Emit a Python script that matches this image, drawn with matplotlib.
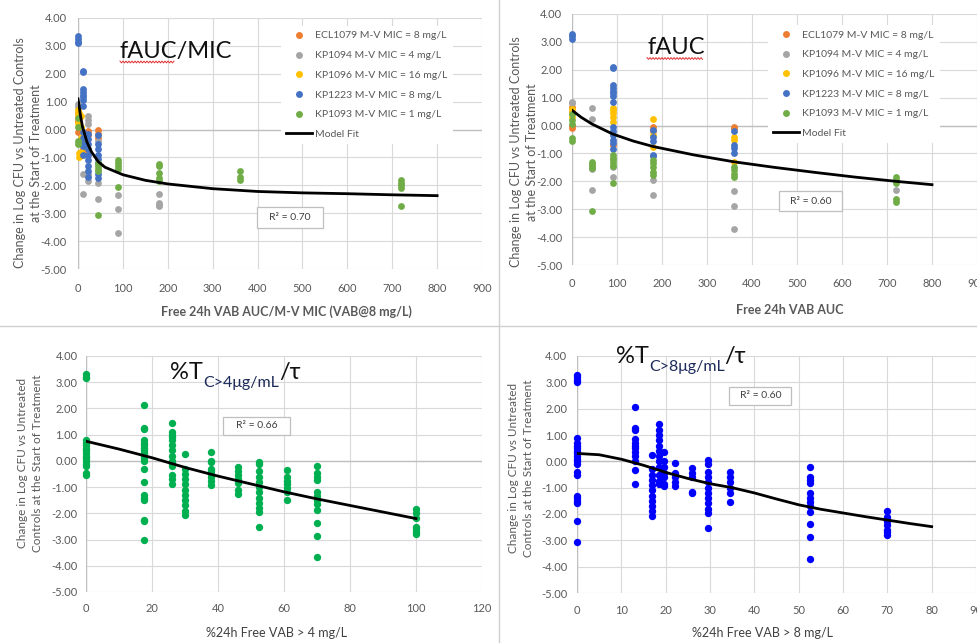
import numpy as np
import matplotlib
matplotlib.use("Agg")
import matplotlib.pyplot as plt
from matplotlib.lines import Line2D
from matplotlib.patches import Rectangle
from matplotlib.ticker import FormatStrFormatter

plt.rcParams['font.family'] = ['Lato', 'DejaVu Sans']
plt.rcParams['axes.unicode_minus'] = False

W, H = 978, 643

# ---------------- data ----------------
series_labels = ["ECL1079 M-V MIC = 8 mg/L", "KP1094 M-V MIC = 4 mg/L",
                 "KP1096 M-V MIC = 16 mg/L", "KP1223 M-V MIC = 8 mg/L",
                 "KP1093 M-V MIC = 1 mg/L"]
series_colors = ["#ED7D31", "#A5A5A5", "#FFC000", "#4472C4", "#70AD47"]

# fAUC/MIC panel: {x level: [y values]}
ecl1079_aucmic = {0: [0.6, 0.3, -0.1], 11: [-0.7, -0.8], 22: [-0.05, -0.2],
                  45: [-0.02, -0.15, -0.3]}
kp1094_aucmic = {0: [0.9, 0.8], 11: [-1.6, -2.3], 22: [0.5, 0.35, 0.2, -1.6, -1.85],
                 45: [-0.4, -1.9, -2.5], 90: [-2.35, -2.85, -3.7],
                 180: [-2.3, -2.65, -2.7, -2.75]}
kp1096_aucmic = {0: [0.7, 0.55, 0.45, 0.25], 3: [0.6, 0.4, 0.2, -0.85, -1.0],
                 6: [0.5, 0.1, -0.3, -0.5, -0.8], 11: [-0.2, -0.4, -0.9], 22: [-0.7]}
kp1223_aucmic = {0: [3.35, 3.25, 3.15, 3.1],
                 11: [2.1, 2.05, 1.45, 1.35, 1.25, 1.15, 1.05, 0.85, -0.1, -0.3, -0.5, -0.6, -0.9],
                 22: [-0.15, -0.35, -0.5, -0.7, -0.9, -1.1, -1.3, -1.5, -1.7],
                 45: [-0.2, -0.5, -0.7, -0.9, -1.05, -1.2, -1.6, -1.75]}
kp1093_aucmic = {0: [0.4, 0.1, -0.4, -0.5], 45: [-1.2, -1.3, -1.4, -1.5, -3.05],
                 90: [-1.1, -1.2, -1.3, -1.4, -2.05], 180: [-1.25, -1.3, -1.55, -1.75, -1.85],
                 360: [-1.5, -1.7, -1.8], 720: [-1.8, -1.9, -2.0, -2.1, -2.75]}
fit_aucmic_x = [0, 2, 5, 10, 20, 30, 45, 60, 100, 150, 200, 300, 400, 500, 600, 700, 800]
fit_aucmic_y = [1.1, 0.9, 0.55, 0.1, -0.45, -0.8, -1.15, -1.35, -1.62, -1.82, -1.95,
                -2.12, -2.22, -2.27, -2.3, -2.34, -2.37]

# fAUC panel
ecl1079_auc = {0: [0.65, 0.5, 0.0, -0.1], 90: [-0.7], 180: [-0.05, -0.2], 360: [-0.05, -0.1]}
kp1094_auc = {0: [0.85, 0.8], 45: [0.64, 0.24, -1.55, -2.31], 90: [-1.5, -1.83],
              180: [-1.95, -2.49], 360: [-2.35, -2.9, -3.7], 720: [-2.3]}
kp1096_auc = {0: [0.6, 0.45, 0.3], 90: [0.64, 0.55, 0.45, 0.3, 0.14],
              180: [0.24, -0.35, -0.76], 360: [-0.4, -0.5, -1.3]}
kp1223_auc = {0: [3.3, 3.2, 3.1],
              90: [2.11, 2.05, 1.45, 1.35, 1.25, 1.15, 1.05, 0.86, -0.04, -0.2, -0.35, -0.5, -0.62, -0.85],
              180: [-0.16, -0.4, -0.55, -1.05, -1.1], 360: [-0.2, -0.7, -0.8, -1.0]}
kp1093_auc = {0: [0.4, 0.2, 0.05, -0.45, -0.55], 45: [-1.29, -1.38, -1.45, -1.52, -3.05],
              90: [-1.05, -1.15, -1.25, -1.35, -1.45, -2.07],
              180: [-1.23, -1.35, -1.5, -1.65, -1.77], 360: [-1.5, -1.6, -1.75, -1.85],
              720: [-1.85, -1.95, -2.05, -2.65, -2.74]}
fit_auc_x = [0, 20, 45, 90, 135, 180, 270, 360, 450, 540, 630, 720, 800]
fit_auc_y = [0.55, 0.3, 0.05, -0.3, -0.55, -0.75, -1.05, -1.3, -1.5, -1.68, -1.85, -2.0, -2.12]

# %T > 4 mg/L panel
tc4 = {0: [3.33, 3.2, 3.15, 0.8, 0.7, 0.6, 0.5, 0.4, 0.3, 0.2, 0.1, 0.0, -0.1, -0.2, -0.45, -0.55],
       17.5: [2.12, 1.25, 1.2, 0.8, 0.7, 0.6, 0.5, 0.4, 0.3, 0.2, 0.1, 0.0, -0.3, -0.8,
              -1.3, -1.4, -1.5, -2.25, -2.3, -3.03],
       26: [1.46, 1.1, 1.0, 0.9, 0.8, 0.6, 0.4, 0.2, 0.0, -0.1, -0.2, -0.55, -0.7, -0.87],
       30: [0.25, -0.3, -0.5, -0.7, -0.9, -1.1, -1.3, -1.5, -1.7, -1.9, -2.07],
       38: [0.34, 0.0, -0.05, -0.3, -0.4, -0.5, -0.6, -0.75, -0.93],
       46: [-0.23, -0.4, -0.55, -0.7, -0.85, -1.1, -1.25],
       52.5: [-0.04, -0.1, -0.4, -0.6, -0.8, -1.0, -1.2, -1.4, -1.6, -1.8, -1.95, -2.52],
       61: [-0.36, -0.6, -0.75, -0.9, -1.05, -1.2, -1.5],
       70: [-0.2, -0.47, -0.6, -0.73, -1.18, -1.35, -1.5, -1.65, -1.88, -2.35, -2.86, -3.66],
       100: [-1.82, -2.0, -2.18, -2.52, -2.6, -2.7, -2.77]}
fit_tc4_x = [0, 10, 20, 30, 40, 50, 60, 70, 80, 90, 100]
fit_tc4_y = [0.75, 0.45, 0.12, -0.25, -0.58, -0.88, -1.18, -1.45, -1.7, -1.95, -2.2]

# %T > 8 mg/L panel
tc8 = {0: [3.28, 3.2, 3.1, 3.03, 0.88, 0.7, 0.6, 0.5, 0.4, 0.3, 0.2, 0.1, 0.0, -0.1, -0.4,
           -0.51, -1.3, -1.4, -1.5, -1.59, -2.28, -3.08],
       13: [2.05, 1.26, 1.2, 0.85, 0.7, 0.6, 0.5, 0.35, 0.2, 0.0, -0.32, -0.85],
       17: [0.25, -0.3, -0.5, -0.7, -0.9, -1.1, -1.3, -1.5, -1.7, -1.9, -2.09],
       18.5: [1.42, 1.2, 1.0, 0.8, 0.6, 0.4, 0.2, 0.0, -0.2, -0.5, -0.75, -0.85],
       19.6: [0.37, 0.0, -0.2, -0.45, -0.6, -0.85, -0.95],
       22: [-0.07, -0.45, -0.6, -0.8, -0.95],
       26: [-0.26, -0.45, -0.6, -1.15, -1.21],
       29.5: [0.06, -0.1, -0.4, -0.6, -0.8, -1.0, -1.2, -1.4, -1.6, -1.8, -1.95, -2.54],
       34.5: [-0.39, -0.6, -0.8, -1.0, -1.2, -1.56],
       52.5: [-0.21, -0.59, -0.7, -0.84, -1.22, -1.4, -1.55, -1.7, -1.92, -2.39, -2.89, -3.69],
       70: [-1.88, -2.1, -2.25, -2.4, -2.62, -2.7, -2.8]}
fit_tc8_x = [0, 5, 10, 15, 20, 25, 30, 35, 40, 45, 50, 55, 60, 65, 70, 75, 80]
fit_tc8_y = [0.3, 0.25, 0.08, -0.15, -0.42, -0.65, -0.85, -1.0, -1.2, -1.43, -1.65,
             -1.82, -1.96, -2.1, -2.23, -2.36, -2.48]

r2_labels = ["R² = 0.70", "R² = 0.60", "R² = 0.66", "R² = 0.60"]
ylabel_top = "Change in Log CFU vs Untreated Controls\nat the Start of Treatment"
ylabel_bot = "Change in Log CFU vs Untreated\nControls at the Start of Treatment"

# ---------------- helpers ----------------
fig = plt.figure(figsize=(W / 100, H / 100), dpi=100)
fig.patch.set_facecolor('white')

GRID = '#d9d9d9'
TICKC = '#595959'


def flat(d):
    xs, ys = [], []
    for k, v in d.items():
        xs += [k] * len(v)
        ys += v
    return xs, ys


def make_ax(l, t, r, b, xmax, xstep, padx, pady):
    ax = fig.add_axes([l / W, 1 - b / H, (r - l) / W, (b - t) / H])
    ax.set_xlim(0, xmax)
    ax.set_ylim(-5, 4)
    ax.set_xticks(np.arange(0, xmax + xstep / 2, xstep))
    ax.set_yticks(np.arange(-5, 4.5, 1))
    ax.yaxis.set_major_formatter(FormatStrFormatter('%.2f'))
    ax.grid(True, color=GRID, lw=0.8)
    ax.set_axisbelow(True)
    for s in ax.spines.values():
        s.set_visible(False)
    ax.axhline(0, color='#bfbfbf', lw=1.0, zorder=1)
    ax.axvline(0, color='#bfbfbf', lw=1.0, zorder=1)
    ax.tick_params(axis='both', length=0, labelsize=8, labelcolor=TICKC)
    ax.tick_params(axis='x', pad=padx)
    ax.tick_params(axis='y', pad=pady)
    return ax


def r2box(cx, cy, w, h, txt):
    fig.patches.append(Rectangle(((cx - w / 2) / W, 1 - (cy + h / 2) / H), w / W, h / H,
                                 transform=fig.transFigure, fc='white', ec='#bfbfbf',
                                 lw=0.9, zorder=5))
    fig.text(cx / W, 1 - cy / H, txt, ha='center', va='center', fontsize=7.5,
             color='#404040', zorder=6)


def squiggle(x0, x1, y):
    xs = np.arange(x0, x1 + 0.1, 1.5)
    ys = y + np.where(np.arange(len(xs)) % 2 == 0, -0.9, 0.9)
    fig.add_artist(Line2D(xs / W, 1 - ys / H, color='#e03030', lw=0.7))


def sub_title(x0, base, sub, fs_big=17, fs_small=11.5, drop=8):
    r = fig.canvas.get_renderer()
    t1 = fig.text(x0 / W, 1 - base / H, "%T", fontsize=fs_big, va='baseline', color='#111111')
    bb = t1.get_window_extent(r)
    t2 = fig.text(bb.x1 / W, 1 - (base + drop) / H, sub, fontsize=fs_small,
                  va='baseline', color='#1c2a5a')
    bb2 = t2.get_window_extent(r)
    fig.text(bb2.x1 / W, 1 - base / H, "/τ", fontsize=fs_big, va='baseline', color='#111111')


def legend(ax, x, y):
    handles = [Line2D([], [], marker='o', ls='', color=c, markersize=5, mew=0)
               for c in series_colors]
    handles.append(Line2D([], [], color='black', lw=2))
    lg = ax.legend(handles, series_labels + ["Model Fit"], loc='upper left',
                   bbox_to_anchor=(x / W, 1 - y / H), bbox_transform=fig.transFigure,
                   fontsize=7.5, frameon=True, fancybox=False, framealpha=1,
                   edgecolor='none', facecolor='white', handlelength=2.5,
                   handletextpad=0.3, labelspacing=1.0, borderpad=0.5,
                   borderaxespad=0)
    for t in lg.get_texts():
        t.set_color(TICKC)
    lg.set_zorder(6)


MS = 24

# ---------------- top-left: fAUC/MIC ----------------
ax1 = make_ax(78, 18, 482, 269, 900, 100, padx=10, pady=8)
for d, c in zip([ecl1079_aucmic, kp1094_aucmic, kp1096_aucmic, kp1223_aucmic, kp1093_aucmic],
                series_colors):
    xs, ys = flat(d)
    ax1.scatter(xs, ys, s=MS, color=c, linewidths=0, zorder=3, clip_on=False)
ax1.plot(fit_aucmic_x, fit_aucmic_y, color='black', lw=2, zorder=4)
legend(ax1, 281, 26)

# ---------------- top-right: fAUC ----------------
ax2 = make_ax(572, 14, 977, 265, 900, 100, padx=9, pady=7)
for d, c in zip([ecl1079_auc, kp1094_auc, kp1096_auc, kp1223_auc, kp1093_auc], series_colors):
    xs, ys = flat(d)
    ax2.scatter(xs, ys, s=MS, color=c, linewidths=0, zorder=3, clip_on=False)
ax2.plot(fit_auc_x, fit_auc_y, color='black', lw=2, zorder=4)
legend(ax2, 768, 25)

# ---------------- bottom-left: %T>4 ----------------
ax3 = make_ax(86, 356, 482, 592, 120, 20, padx=8, pady=6)
xs, ys = flat(tc4)
ax3.scatter(xs, ys, s=28, color='#00B050', linewidths=0, zorder=3, clip_on=False)
ax3.plot(fit_tc4_x, fit_tc4_y, color='black', lw=2, zorder=4)

# ---------------- bottom-right: %T>8 ----------------
ax4 = make_ax(577, 356, 976, 593, 90, 10, padx=9, pady=7)
xs, ys = flat(tc8)
ax4.scatter(xs, ys, s=28, color='#0000FF', linewidths=0, zorder=3, clip_on=False)
ax4.plot(fit_tc8_x, fit_tc8_y, color='black', lw=2, zorder=4)

# ---------------- labels ----------------
LAB = '#595959'
fig.text(28 / W, 1 - 153 / H, ylabel_top, rotation=90, ha='center', va='center',
         multialignment='center', fontsize=9, color=LAB, linespacing=1.45)
fig.text(524 / W, 1 - 152 / H, ylabel_top, rotation=90, ha='center', va='center',
         multialignment='center', fontsize=9, color=LAB, linespacing=1.45)
fig.text(30 / W, 1 - 463 / H, ylabel_bot, rotation=90, ha='center', va='center',
         multialignment='center', fontsize=8.5, color=LAB, linespacing=1.4)
fig.text(521 / W, 1 - 468 / H, ylabel_bot, rotation=90, ha='center', va='center',
         multialignment='center', fontsize=8.5, color=LAB, linespacing=1.4)

fig.text(286 / W, 1 - 312 / H, "Free 24h VAB AUC/M-V MIC (VAB@8 mg/L)", ha='center',
         va='center', fontsize=9, fontweight='bold', color=LAB)
fig.text(790 / W, 1 - 310 / H, "Free 24h VAB AUC", ha='center', va='center',
         fontsize=9, fontweight='bold', color=LAB)
fig.text(277 / W, 1 - 633 / H, "%24h Free VAB > 4 mg/L", ha='center', va='center',
         fontsize=9, color='#404040')
fig.text(763 / W, 1 - 633 / H, "%24h Free VAB > 8 mg/L", ha='center', va='center',
         fontsize=9, color='#404040')

# titles
fig.text(120 / W, 1 - 58 / H, "fAUC/MIC", fontsize=17, va='baseline', color='#111111')
squiggle(120, 175, 62)
fig.text(647 / W, 1 - 54 / H, "fAUC", fontsize=17, va='baseline', color='#111111')
squiggle(647, 703, 58.5)
sub_title(170, 379, "C>4μg/mL")
sub_title(616, 363, "C>8μg/mL")

# R² boxes
r2box(290, 217.5, 66, 21, r2_labels[0])
r2box(810.5, 201, 63, 20, r2_labels[1])
r2box(256.5, 426, 67, 18, r2_labels[2])
r2box(760.5, 396, 62, 18, r2_labels[3])

# panel separators
fig.add_artist(Line2D([499 / W, 499 / W], [0, 1], color='#d0d0d0', lw=1))
fig.add_artist(Line2D([0, 1], [1 - 326 / H, 1 - 326 / H], color='#d0d0d0', lw=1))

fig.savefig("out.png", dpi=100, facecolor='white')
